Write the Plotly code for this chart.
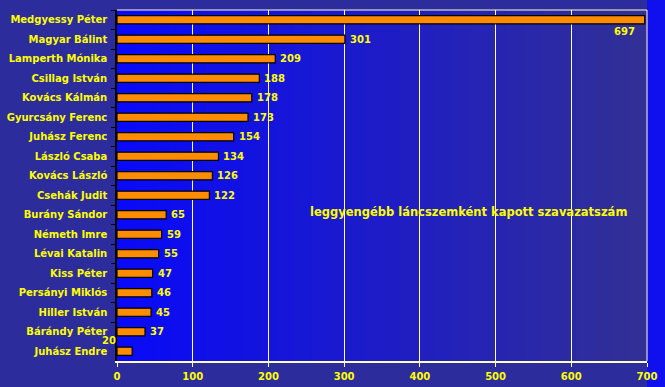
import plotly.graph_objects as go

names = ["Medgyessy Péter", "Magyar Bálint", "Lamperth Mónika", "Csillag István",
         "Kovács Kálmán", "Gyurcsány Ferenc", "Juhász Ferenc", "László Csaba",
         "Kovács László", "Csehák Judit", "Burány Sándor", "Németh Imre",
         "Lévai Katalin", "Kiss Péter", "Persányi Miklós", "Hiller István",
         "Bárándy Péter", "Juhász Endre"]
votes = [697, 301, 209, 188, 178, 173, 154, 134, 126, 122, 65, 59, 55, 47, 46, 45, 37, 20]
series_name = "leggyengébb láncszemként kapott szavazatszám"
x_ticks = [0, 100, 200, 300, 400, 500, 600, 700]

YEL = "#ffff00"
FONT = "DejaVu Sans"

fig = go.Figure()
fig.add_trace(go.Bar(
    y=names, x=votes, orientation="h", name=series_name,
    marker=dict(color="#ff8c00", line=dict(color="#000000", width=1.2)),
    width=0.42, showlegend=False, hoverinfo="x+y",
))

# plot-area gradient strips (left bright blue -> right dusky blue)
shapes = []
n = 30
c0 = (10, 10, 248)
c1 = (50, 48, 150)
for i in range(n):
    t = i / (n - 1)
    c = tuple(int(c0[k] + (c1[k] - c0[k]) * t) for k in range(3))
    shapes.append(dict(type="rect", xref="x domain", yref="y domain",
                       x0=i / n, x1=(i + 1) / n + 0.002, y0=0, y1=1,
                       fillcolor="rgb(%d,%d,%d)" % c, line=dict(width=0), layer="below"))
# right outer strip
shapes.append(dict(type="rect", xref="paper", yref="paper", x0=1.0, x1=1.2, y0=-0.2, y1=1.2,
                   fillcolor="#1010ee", line=dict(width=0), layer="below"))
# plot border top/right
shapes.append(dict(type="line", xref="x domain", yref="y domain", x0=0, x1=1, y0=1, y1=1,
                   line=dict(color="#ffffcc", width=1)))
shapes.append(dict(type="line", xref="x domain", yref="y domain", x0=1, x1=1, y0=0, y1=1,
                   line=dict(color="#ffffcc", width=1)))

annotations = []
for nm, v in zip(names, votes):
    if v == max(votes):
        annotations.append(dict(x=v, y=nm, text=str(v), showarrow=False, xanchor="right",
                                yanchor="middle", xshift=-8, yshift=-12,
                                font=dict(color=YEL, size=10, family=FONT, weight="bold")))
    elif v == min(votes):
        annotations.append(dict(x=0, y=nm, text=str(v), showarrow=False, xanchor="right",
                                yanchor="middle", xshift=1, yshift=11,
                                font=dict(color=YEL, size=10, family=FONT, weight="bold")))
    else:
        annotations.append(dict(x=v, y=nm, text=str(v), showarrow=False, xanchor="left",
                                yanchor="middle", xshift=3,
                                font=dict(color=YEL, size=10, family=FONT, weight="bold")))
annotations.append(dict(xref="paper", yref="paper", x=0.36, y=0.425, text=series_name,
                        showarrow=False, xanchor="left", yanchor="middle",
                        font=dict(color=YEL, size=11.5, family=FONT, weight="bold")))

fig.update_layout(
    width=665, height=387, autosize=False,
    margin=dict(l=117, r=18, t=10, b=26, pad=0, autoexpand=False),
    paper_bgcolor="#2c2c9c",
    plot_bgcolor="rgba(0,0,0,0)",
    shapes=shapes, annotations=annotations,
    font=dict(family=FONT, color=YEL, size=10),
    xaxis=dict(range=[0, 700], tickvals=x_ticks, ticktext=[str(t) for t in x_ticks],
               showgrid=True, gridcolor="#ffffcc", gridwidth=1,
               showline=True, linecolor="#ffffcc", linewidth=1.5,
               ticks="outside", ticklen=4, tickcolor="#ffffcc",
               tickfont=dict(color=YEL, size=10, family=FONT, weight="bold"),
               ticklabelstandoff=1,
               zeroline=False, fixedrange=True, automargin=False),
    yaxis=dict(range=[17.5, -0.5], showgrid=False, showline=True, linecolor="#000000",
               linewidth=1.5, ticks="outside", ticklen=4, tickcolor="#000000",
               tickson="boundaries",
               tickfont=dict(color=YEL, size=10, family=FONT, weight="bold"),
               ticklabelstandoff=6, fixedrange=True, automargin=False),
)

fig.write_html("out.html", config={"displayModeBar": False},
               post_script="document.body.style.margin='0';")
